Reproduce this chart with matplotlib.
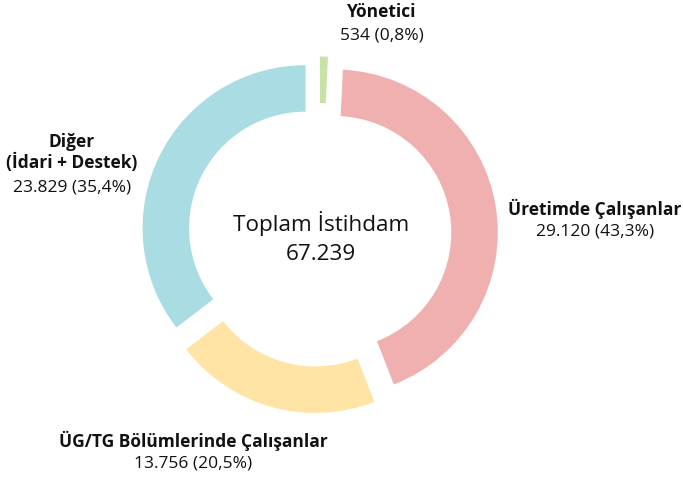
import matplotlib

matplotlib.use("Agg")
import matplotlib.pyplot as plt

CATEGORIES = ["Yönetici", "Üretimde Çalışanlar", "ÜG/TG Bölümlerinde Çalışanlar", "Diğer\n(İdari + Destek)"]
VALUES = [534, 29120, 13756, 23829]
COLORS = ["#c8e2a6", "#f0b0b0", "#ffe4a6", "#a9dce3"]
CENTER_TITLE = "Toplam İstihdam"

# label anchor (x, y of first line, in pixels from top-left)
LABEL_POS = [(382, 12), (595, 208), (193, 440), (72, 142)]

plt.rcParams["font.family"] = ["Open Sans", "DejaVu Sans"]


def tr_int(v):
    return "{:,}".format(v).replace(",", ".")


def tr_pct(v):
    return "{:.1f}%".format(v).replace(".", ",")


fig = plt.figure(figsize=(6.83, 4.8), dpi=100)
ax = fig.add_axes([0, 0, 1, 1])

H = 480
radius = 163
ax.pie(
    VALUES,
    colors=COLORS,
    startangle=90,
    counterclock=False,
    radius=radius,
    center=(319.5, H - 235),
    explode=[15.5] * len(VALUES),
    wedgeprops=dict(width=46.5, linewidth=0),
)
ax.set_xlim(0, 683)
ax.set_ylim(0, H)
ax.axis("off")

total = sum(VALUES)
ax.text(321, H - 223, CENTER_TITLE, ha="center", va="center", fontsize=16.2, color="#111111")
ax.text(321, H - 254, tr_int(total), ha="center", va="center", fontsize=16.2, color="#111111")

for name, val, (x, y) in zip(CATEGORIES, VALUES, LABEL_POS):
    nlines = name.count("\n") + 1
    ax.text(x, H - y + 9, name, ha="center", va="top", fontsize=12.5, fontweight="bold",
            color="#111111", linespacing=1.15)
    ax.text(x, H - y - 22 * (nlines - 1) - 23, "{} ({})".format(tr_int(val), tr_pct(val / total * 100)),
            ha="center", va="center", fontsize=12.5, color="#111111")

fig.savefig("out.png", dpi=100)
